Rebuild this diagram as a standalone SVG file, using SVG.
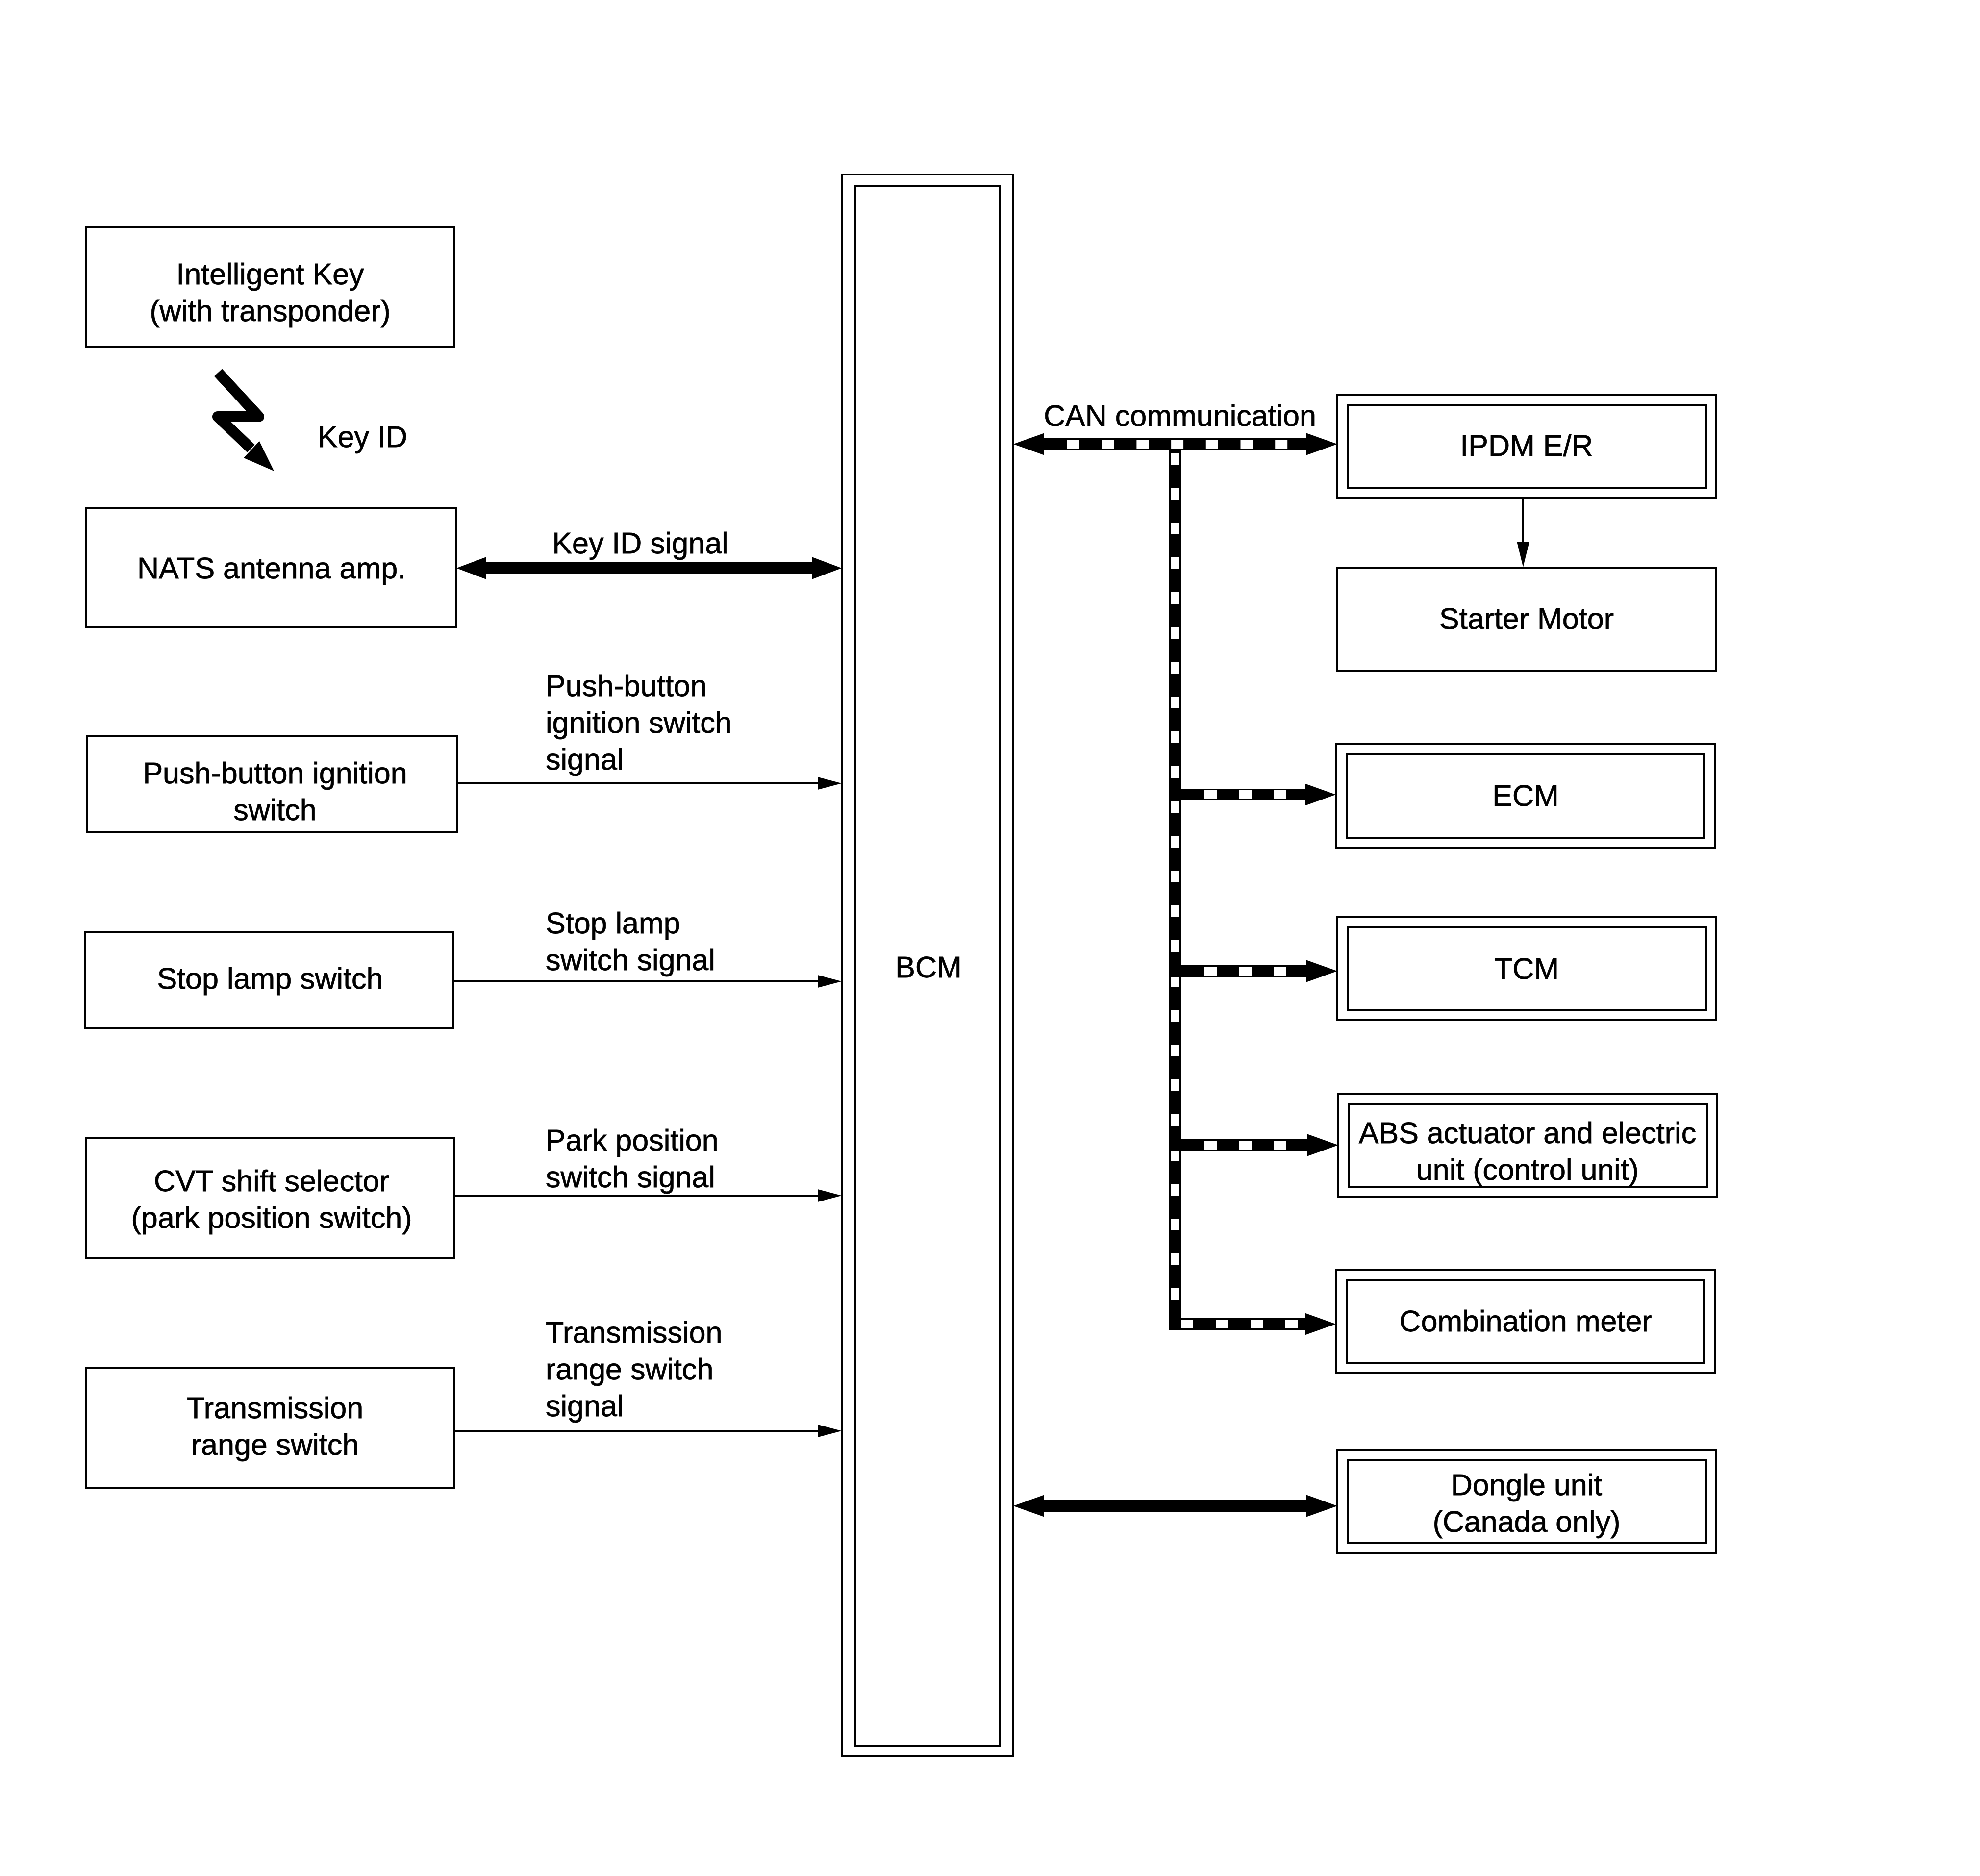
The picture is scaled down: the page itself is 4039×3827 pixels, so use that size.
<svg xmlns="http://www.w3.org/2000/svg" width="4039" height="3827" viewBox="0 0 4039 3827">
<style>
.box{fill:none;stroke:#000;stroke-width:4}
.t{font-family:"Liberation Sans",Arial,Helvetica,sans-serif;font-size:61px;fill:#000;stroke:#000;stroke-width:0.8}
.c{text-anchor:middle}
.ln{stroke:#000;stroke-width:4;fill:none}
.hd{fill:#000;stroke:none}
.wd{stroke:#fff;stroke-width:18;fill:none}
</style>
<rect x="0" y="0" width="4039" height="3827" fill="#fff"/>

<g id="intelligent-key">
<rect class="box" x="175" y="464" width="752" height="244"/>
<text class="t c" x="551" y="580">Intelligent Key</text>
<text class="t c" x="551" y="655">(with transponder)</text>
</g>

<g id="key-id-wireless">
<polyline points="445,760 528,850 444,850 512,915" fill="none" stroke="#000" stroke-width="22" stroke-linejoin="round"/>
<polygon class="hd" points="529,900 559,961 497,934"/>
<text class="t" x="648" y="912">Key ID</text>
</g>

<g id="nats-antenna-amp">
<rect class="box" x="175" y="1036" width="755" height="244"/>
<text class="t c" x="554" y="1180">NATS antenna amp.</text>
</g>

<g id="push-button-ignition-switch">
<rect class="box" x="178" y="1502" width="755" height="196"/>
<text class="t c" x="561" y="1598">Push-button ignition</text>
<text class="t c" x="561" y="1673">switch</text>
</g>

<g id="stop-lamp-switch">
<rect class="box" x="173" y="1901" width="752" height="196"/>
<text class="t c" x="551" y="2017">Stop lamp switch</text>
</g>

<g id="cvt-shift-selector">
<rect class="box" x="175" y="2321" width="752" height="245"/>
<text class="t c" x="554" y="2430">CVT shift selector</text>
<text class="t c" x="554" y="2505">(park position switch)</text>
</g>

<g id="transmission-range-switch">
<rect class="box" x="175" y="2790" width="752" height="245"/>
<text class="t c" x="561" y="2893">Transmission</text>
<text class="t c" x="561" y="2968">range switch</text>
</g>

<g id="bcm">
<rect class="box" x="1717" y="356" width="350" height="3227"/>
<rect class="box" x="1744" y="379" width="295" height="3183"/>
<text class="t c" x="1894" y="1994">BCM</text>
</g>

<g id="ipdm-er">
<rect class="box" x="2728" y="806" width="773" height="209"/>
<rect class="box" x="2749" y="826" width="731" height="170"/>
<text class="t c" x="3114" y="930">IPDM E/R</text>
</g>

<g id="starter-motor">
<rect class="box" x="2728" y="1158" width="773" height="210"/>
<text class="t c" x="3114" y="1283">Starter Motor</text>
</g>

<g id="ecm">
<rect class="box" x="2725" y="1518" width="773" height="212"/>
<rect class="box" x="2747" y="1539" width="729" height="171"/>
<text class="t c" x="3112" y="1644">ECM</text>
</g>

<g id="tcm">
<rect class="box" x="2728" y="1871" width="773" height="210"/>
<rect class="box" x="2749" y="1892" width="731" height="168"/>
<text class="t c" x="3114" y="1997">TCM</text>
</g>

<g id="abs-actuator">
<rect class="box" x="2730" y="2232" width="773" height="210"/>
<rect class="box" x="2751" y="2253" width="731" height="168"/>
<text class="t c" x="3116" y="2332">ABS actuator and electric</text>
<text class="t c" x="3116" y="2407">unit (control unit)</text>
</g>

<g id="combination-meter">
<rect class="box" x="2725" y="2590" width="773" height="211"/>
<rect class="box" x="2747" y="2611" width="729" height="169"/>
<text class="t c" x="3112" y="2716">Combination meter</text>
</g>

<g id="dongle-unit">
<rect class="box" x="2728" y="2958" width="773" height="211"/>
<rect class="box" x="2749" y="2979" width="731" height="169"/>
<text class="t c" x="3114" y="3050">Dongle unit</text>
<text class="t c" x="3114" y="3125">(Canada only)</text>
</g>

<g id="connectors">
<!-- Key ID signal -->
<polygon class="hd" points="931,1159 991,1136.5 991,1147 1657,1147 1657,1136.5 1717,1159 1657,1181.5 1657,1171 991,1171 991,1181.5"/>
<text class="t c" x="1306" y="1129">Key ID signal</text>

<!-- Push-button ignition switch signal -->
<line class="ln" x1="933" y1="1598" x2="1670" y2="1598"/>
<polygon class="hd" points="1668,1585 1717,1598 1668,1611"/>
<text class="t" x="1113" y="1420">Push-button</text>
<text class="t" x="1113" y="1495">ignition switch</text>
<text class="t" x="1113" y="1570">signal</text>

<!-- Stop lamp switch signal -->
<line class="ln" x1="925" y1="2002" x2="1670" y2="2002"/>
<polygon class="hd" points="1668,1989 1717,2002 1668,2015"/>
<text class="t" x="1113" y="1904">Stop lamp</text>
<text class="t" x="1113" y="1979">switch signal</text>

<!-- Park position switch signal -->
<line class="ln" x1="927" y1="2439" x2="1670" y2="2439"/>
<polygon class="hd" points="1668,2426 1717,2439 1668,2452"/>
<text class="t" x="1113" y="2347">Park position</text>
<text class="t" x="1113" y="2422">switch signal</text>

<!-- Transmission range switch signal -->
<line class="ln" x1="927" y1="2919" x2="1670" y2="2919"/>
<polygon class="hd" points="1668,2906 1717,2919 1668,2932"/>
<text class="t" x="1113" y="2739">Transmission</text>
<text class="t" x="1113" y="2814">range switch</text>
<text class="t" x="1113" y="2889">signal</text>

<!-- CAN communication bus -->
<rect class="hd" x="2385" y="894" width="24" height="1819"/>
<line class="wd" x1="2397" y1="924" x2="2397" y2="2652" stroke-dasharray="24 47"/>
<polygon class="hd" points="2067,906 2130,883.5 2130,894 2665,894 2665,883.5 2728,906 2665,928.5 2665,918 2130,918 2130,928.5"/>
<line class="wd" x1="2177" y1="906" x2="2627" y2="906" stroke-dasharray="25 45.7"/>
<text class="t c" x="2407" y="869">CAN communication</text>

<polygon class="hd" points="2385,1609 2662,1609 2662,1598.5 2725,1621 2662,1643.5 2662,1633 2385,1633"/>
<line class="wd" x1="2457" y1="1621" x2="2624" y2="1621" stroke-dasharray="25 46"/>

<polygon class="hd" points="2385,1969 2665,1969 2665,1958.5 2728,1981 2665,2003.5 2665,1993 2385,1993"/>
<line class="wd" x1="2457" y1="1981" x2="2624" y2="1981" stroke-dasharray="25 46"/>

<polygon class="hd" points="2385,2324 2667,2324 2667,2313.5 2730,2336 2667,2358.5 2667,2348 2385,2348"/>
<line class="wd" x1="2457" y1="2336" x2="2624" y2="2336" stroke-dasharray="25 46"/>

<polygon class="hd" points="2384,2689 2662,2689 2662,2678.5 2725,2701 2662,2723.5 2662,2713 2384,2713"/>
<line class="wd" x1="2409" y1="2701" x2="2647" y2="2701" stroke-dasharray="25 46"/>

<!-- IPDM to Starter Motor -->
<line class="ln" x1="3107" y1="1015" x2="3107" y2="1108"/>
<polygon class="hd" points="3094.5,1106 3119.5,1106 3107,1157"/>

<!-- BCM to Dongle unit -->
<polygon class="hd" points="2067,3072 2130,3049.5 2130,3060 2665,3060 2665,3049.5 2728,3072 2665,3094.5 2665,3084 2130,3084 2130,3094.5"/>
</g>
</svg>
